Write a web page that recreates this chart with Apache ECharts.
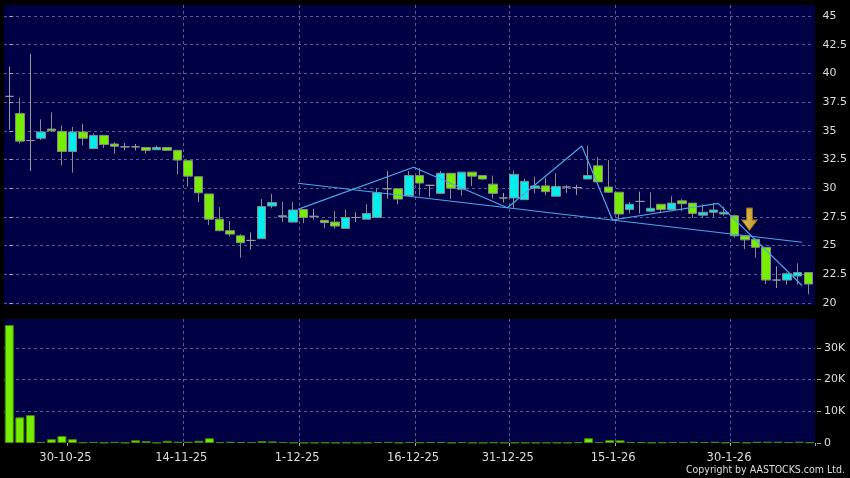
<!DOCTYPE html>
<html><head><meta charset="utf-8">
<script src="https://cdn.jsdelivr.net/npm/echarts@6/dist/echarts.min.js"></script>
<style>html,body{margin:0;padding:0;background:#000;}#c{width:850px;height:478px;}</style>
</head><body><div id="c"></div>
<script>
// ---- data ----
const dates = [
 '21-10-25','22-10-25','23-10-25','24-10-25','27-10-25','28-10-25','30-10-25','31-10-25',
 '3-11-25','4-11-25','5-11-25','6-11-25','7-11-25','10-11-25','11-11-25','12-11-25','13-11-25','14-11-25',
 '17-11-25','18-11-25','19-11-25','20-11-25','21-11-25','24-11-25','25-11-25','26-11-25','27-11-25','28-11-25',
 '1-12-25','2-12-25','3-12-25','4-12-25','5-12-25','8-12-25','9-12-25','10-12-25','11-12-25','12-12-25',
 '15-12-25','16-12-25','17-12-25','18-12-25','19-12-25','22-12-25','23-12-25','24-12-25','29-12-25','30-12-25','31-12-25',
 '2-1-26','5-1-26','6-1-26','7-1-26','8-1-26','9-1-26','12-1-26','13-1-26','14-1-26','15-1-26','16-1-26',
 '19-1-26','20-1-26','21-1-26','22-1-26','23-1-26','26-1-26','27-1-26','28-1-26','29-1-26','30-1-26',
 '2-2-26','3-2-26','4-2-26','5-2-26','6-2-26','9-2-26','10-2-26'
];
const openP  = [38.0,36.5,34.15,34.35,35.15,34.95,33.2,34.9,33.45,34.6,33.85,33.6,33.6,33.55,33.35,33.55,33.3,32.4,31.0,29.5,27.3,26.3,25.85,25.45,25.6,28.45,27.5,27.05,28.15,27.55,27.2,27.05,26.5,27.45,27.3,27.45,29.95,29.95,29.35,31.1,30.25,29.55,31.3,29.9,31.4,31.1,30.35,29.15,29.15,29.0,30.0,30.2,29.3,30.1,30.05,30.8,31.95,30.1,29.65,28.15,28.85,28.0,28.6,28.15,28.9,28.7,27.65,27.9,27.75,27.6,25.85,25.55,24.85,22.0,22.0,22.35,22.65];
const closeP = [38.0,34.1,34.15,34.9,35.0,33.2,34.9,34.35,34.6,33.8,33.65,33.6,33.6,33.3,33.55,33.3,32.45,31.05,29.6,27.3,26.3,26.0,25.25,25.45,28.4,28.75,27.6,28.1,27.45,27.55,27.0,26.7,27.45,27.45,27.8,29.6,29.95,29.05,31.1,30.45,30.25,31.3,30.0,31.4,31.05,30.8,29.55,29.15,31.2,30.6,30.2,29.7,30.15,30.1,30.05,31.1,30.55,29.65,27.75,28.6,28.85,28.25,28.15,28.7,28.65,27.8,27.9,28.1,27.9,25.85,25.5,24.85,22.0,22.0,22.55,22.65,21.65];
const lowP   = [35.1,33.9,31.5,34.2,34.9,32.0,31.35,33.75,33.4,33.5,33.0,33.3,33.3,33.0,33.35,33.25,31.2,30.15,28.8,26.8,26.25,25.8,23.95,24.65,25.6,28.25,27.05,27.0,26.95,27.25,26.5,26.5,26.5,27.05,27.3,27.45,29.1,28.6,29.35,29.35,29.25,29.55,29.05,29.35,30.2,30.75,29.1,28.75,28.25,29.0,29.55,29.4,29.3,29.6,29.4,30.8,30.55,29.6,27.3,27.8,27.8,28.0,27.95,28.05,28.0,27.4,27.45,27.5,27.6,25.7,24.7,23.95,21.65,21.3,21.6,21.6,20.75];
const highP  = [40.6,37.9,41.7,36.0,36.6,35.45,35.35,35.6,34.75,34.6,34.0,33.95,33.85,33.55,33.7,33.55,33.3,32.4,31.0,29.5,28.35,27.15,26.0,26.15,29.05,29.5,28.8,28.8,28.15,28.2,27.2,28.0,28.15,27.9,28.6,30.0,31.5,29.95,31.5,31.75,30.3,31.5,31.3,31.4,31.4,31.1,31.1,29.6,31.55,30.85,31.0,30.9,31.3,30.25,30.3,33.7,32.7,32.45,29.65,28.8,29.7,29.65,28.6,29.3,29.05,28.7,28.6,28.7,28.4,27.7,25.85,25.6,24.85,23.2,22.65,23.45,22.65];
const volume = [37200,8100,8800,350,1200,2200,1200,200,350,100,350,100,850,600,100,700,400,400,700,1500,300,400,300,300,600,500,300,150,100,100,150,100,150,100,150,300,350,100,300,200,300,350,100,300,100,100,200,100,150,100,100,150,100,100,250,1500,300,900,850,300,250,150,200,300,300,400,300,400,150,300,150,400,400,400,300,400,200];
const tickLabels = ['30-10-25','14-11-25','1-12-25','16-12-25','31-12-25','15-1-26','30-1-26'];
const volTicks = [0, 10000, 20000, 30000];
// trend lines: x in candle-index units, y in price
const zigzagX = [27.45,38.46,47.39,54.46,57.38,67.43,75.41];
const zigzagY = [28.16,31.82,28.30,33.68,27.23,28.68,21.52];
const trendX  = [27.45,75.41];
const trendY  = [30.43,25.29];
const arrowX  = [70.41];
const arrowY  = [27.3];

// ---- build ----
const NAVY = '#000044', GRIDC = '#5a5a8e', TXT = '#dddddd', FONT = 'DejaVu Sans';
const isTick = (i, v) => tickLabels.indexOf(v) >= 0;
const candles = dates.map((d, i) => [openP[i], closeP[i], lowP[i], highP[i]]);
const pairs = (xs, ys) => xs.map((x, i) => [x, ys[i]]);

const chart = echarts.init(document.getElementById('c'), null, {renderer: 'canvas'});
chart.setOption({
  backgroundColor: '#000',
  animation: false,
  grid: [
    {left: 4, right: 35, top: 5, height: 300, show: true, backgroundColor: NAVY, borderWidth: 0},
    {left: 4, right: 35, top: 16, height: 287},
    {left: 4, right: 35, top: 319, height: 124, show: true, backgroundColor: NAVY, borderWidth: 0}
  ],
  xAxis: [
    {gridIndex: 0, type: 'category', data: dates, boundaryGap: true,
     axisLine: {show: false}, axisTick: {show: false}, axisLabel: {show: false},
     splitLine: {show: true, interval: isTick, showMaxLine: false, showMinLine: false,
                 lineStyle: {color: GRIDC, type: [3, 3], width: 1}}},
    {gridIndex: 1, type: 'category', data: dates, boundaryGap: true, show: false},
    {gridIndex: 1, type: 'value', min: -0.5, max: dates.length - 0.5, show: false},
    {gridIndex: 2, type: 'category', data: dates, boundaryGap: true, offset: 3,
     axisLine: {show: false},
     axisTick: {show: true, interval: isTick, length: 3, lineStyle: {color: '#aaaaaa'}},
     axisLabel: {show: true, interval: isTick, color: TXT, fontFamily: FONT, fontSize: 11.5,
                 margin: 6, padding: [0, 14, 0, 0]},
     splitLine: {show: true, interval: isTick, showMaxLine: false, showMinLine: false,
                 lineStyle: {color: GRIDC, type: [3, 3], width: 1}}}
  ],
  yAxis: [
    {gridIndex: 0, type: 'value', min: 0, max: 1, show: false},
    {gridIndex: 1, type: 'value', position: 'right', min: 20, max: 45, interval: 2.5, offset: 2,
     axisLine: {show: false},
     axisTick: {show: true, length: 4, lineStyle: {color: '#aaaaaa'}},
     axisLabel: {color: TXT, fontFamily: FONT, fontSize: 11, margin: 7},
     splitLine: {show: true, lineStyle: {color: GRIDC, type: [3, 3], width: 1}}},
    {gridIndex: 2, type: 'value', position: 'right', min: 0, max: 39100, interval: 10000, offset: 2,
     axisLine: {show: false},
     axisTick: {show: true, length: 4, lineStyle: {color: '#aaaaaa'}, customValues: volTicks},
     axisLabel: {color: TXT, fontFamily: FONT, fontSize: 11, margin: 7,
                 customValues: volTicks,
                 formatter: v => v === 0 ? '0' : (v / 1000) + 'K'},
     splitLine: {show: true, showMinLine: false,
                 lineStyle: {color: GRIDC, type: [3, 3], width: 1}}}
  ],
  series: [
    {type: 'candlestick', xAxisIndex: 1, yAxisIndex: 1, data: candles, barWidth: 9, z: 3,
     itemStyle: {color: '#00eeee', color0: '#77ee00', borderColor: '#8a8a8a', borderColor0: '#8a8a8a',
                 borderColorDoji: '#9a9a9a', borderWidth: 1}},
    {type: 'line', xAxisIndex: 2, yAxisIndex: 1, data: pairs(zigzagX, zigzagY), symbol: 'none', z: 5,
     lineStyle: {color: '#4ea6e6', width: 1.2}},
    {type: 'line', xAxisIndex: 2, yAxisIndex: 1, data: pairs(trendX, trendY), symbol: 'none', z: 5,
     lineStyle: {color: '#4ea6e6', width: 1.2}},
    {type: 'scatter', xAxisIndex: 2, yAxisIndex: 1, data: pairs(arrowX, arrowY), z: 6,
     symbol: 'path://M5,0 L11,0 L11,12 L16,12 L8,22 L0,12 L5,12 Z', symbolSize: [15, 22],
     itemStyle: {color: new echarts.graphic.LinearGradient(0, 0, 1, 0, [
        {offset: 0, color: '#fff27a'}, {offset: 0.5, color: '#ffd83a'}, {offset: 1, color: '#f2b400'}]),
        borderColor: '#c88a00', borderWidth: 1}},
    {type: 'bar', xAxisIndex: 3, yAxisIndex: 2, data: volume, barWidth: 9,
     itemStyle: {color: '#77ee00', borderColor: '#3f8a00', borderWidth: 1}}
  ],
  graphic: [
    {type: 'text', right: 5, top: 465,
     style: {text: 'Copyright by AASTOCKS.com Ltd.', fill: TXT, font: '10.5px "DejaVu Sans Condensed", "Liberation Sans", sans-serif'}}
  ]
});
</script>
</body></html>
